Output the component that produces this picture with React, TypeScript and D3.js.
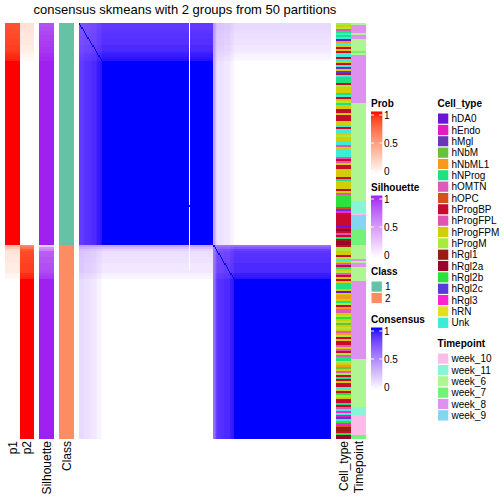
import React, { useMemo } from "react";
import * as d3 from "d3";

const TITLE = "consensus skmeans with 2 groups from 50 partitions";

// ---- categories ----
const cellTypeNames = [
  "hDA0", "hEndo", "hMgl", "hNbM", "hNbML1", "hNProg", "hOMTN", "hOPC", "hProgBP",
  "hProgFPL", "hProgFPM", "hProgM", "hRgl1", "hRgl2a", "hRgl2b", "hRgl2c", "hRgl3", "hRN", "Unk",
];
const cellTypeColors = [
  "#6D14DA", "#E21BC4", "#6B36B3", "#66C23C", "#F79A1B", "#1DE283", "#DE59B9", "#D2521E", "#C80A2E",
  "#E055B2", "#D3CD06", "#A7EB3C", "#9A1D14", "#96062E", "#2AE23A", "#5B3AD8", "#FE22D0", "#E0E01E", "#3DEBD9",
];
// one letter per cell type, in the order of cellTypeNames
const cellTypeCodes = "abcdefghijklmnopqrs";

const timepointNames = ["week_10", "week_11", "week_6", "week_7", "week_8", "week_9"];
const timepointColors = ["#FBBCEA", "#88F5D6", "#B1F592", "#72F378", "#DD93EE", "#84D5F0"];

const classNames = ["1", "2"];
const classColors = ["#66C2A5", "#FC8D62"];

// ---- samples of class 1 (top to bottom), cell type code per sample ----
const class1CellTypes =
  "lklgfsfsae" + "skikissisk" + "iscKpisfff".toLowerCase() + "ilkkkfsikl" + "fkkiikiiik" +
  "ksissklkks" + "sjkssssjij" + "kiikkkkifk" + "kkkikjoooo" + "oohpqiiiii" + "iainijifmn" + "n";
// ---- samples of class 2 (top to bottom) ----
const class2CellTypes =
  "illkkilskg" + "ifklgikikf" + "ffkakeekfl" + "ieggklokld" + "klkgelikii" +
  "gkjilgfflk" + "edkglifiki" + "iskiolkiif" + "ijsqsbpsoq" + "hmmionn";

// timepoint runs [timepoint, number of consecutive samples]
const class1TimepointRuns: [string, number][] = [
  ["week_6", 1], ["week_8", 4], ["week_6", 1], ["week_8", 2], ["week_6", 6], ["week_7", 1],
  ["week_6", 1], ["week_8", 24], ["week_6", 49], ["week_11", 6], ["week_10", 1], ["week_9", 7], ["week_7", 8],
];
const class2TimepointRuns: [string, number][] = [
  ["week_6", 7], ["week_8", 1], ["week_6", 1], ["week_8", 2], ["week_6", 7], ["week_8", 39],
  ["week_6", 24], ["week_11", 4], ["week_10", 10], ["week_7", 2],
];

// membership probability of own class for the first (least certain) samples; the others are 1
const class1OwnProbHead = [0.84, 0.84, 0.84, 0.85, 0.86, 0.87, 0.87, 0.87, 0.88, 0.88, 0.88, 0.9, 0.9, 0.9, 0.92, 0.94, 0.95, 0.96, 0.97];
const class2OwnProbHead = [0.62, 0.72, 0.82, 0.86, 0.87, 0.87, 0.88, 0.88, 0.88, 0.9, 0.9, 0.9, 0.9, 0.9, 0.94, 0.95, 0.96];
// silhouette of the first samples; the others are 1
const class1SilhouetteHead = [0.84, 0.84, 0.86, 0.86, 0.88, 0.88, 0.9, 0.9, 0.9, 0.92, 0.92, 0.92, 0.94, 0.94, 0.94, 0.96, 0.96, 0.98, 0.98];
const class2SilhouetteHead = [0.25, 0.55, 0.62, 0.78, 0.8, 0.8, 0.82, 0.82, 0.82, 0.85, 0.85, 0.85, 0.86, 0.86, 0.9, 0.92, 0.93];

// a sample column whose consensus reads 0 for the first rows
const zeroConsensusColumn = 91;
const zeroConsensusRows = 124;

const legendTicks = [0, 0.5, 1];

type Sample = { cls: number; p1: number; p2: number; sil: number; cellType: string; timepoint: string };

function buildSamples(): Sample[] {
  const out: Sample[] = [];
  const add = (cls: number, codes: string, runs: [string, number][], probHead: number[], silHead: number[]) => {
    const tps = runs.flatMap(([t, n]) => Array(n).fill(t));
    codes.split("").forEach((c, k) => {
      const own = k < probHead.length ? probHead[k] : 1;
      const sil = k < silHead.length ? silHead[k] : 1;
      out.push({
        cls,
        p1: cls === 1 ? own : 1 - own,
        p2: cls === 1 ? 1 - own : own,
        sil,
        cellType: cellTypeNames[cellTypeCodes.indexOf(c)],
        timepoint: tps[k] ?? tps[tps.length - 1],
      });
    });
  };
  add(1, class1CellTypes, class1TimepointRuns, class1OwnProbHead, class1SilhouetteHead);
  add(2, class2CellTypes, class2TimepointRuns, class2OwnProbHead, class2SilhouetteHead);
  return out;
}

const probColor = d3.scaleLinear<string>().domain([0, 1]).range(["#FFFFFF", "#FF0000"]).interpolate(d3.interpolateLab);
const silColor = d3.scaleLinear<string>().domain([0, 1]).range(["#FFFFFF", "#A020F0"]).interpolate(d3.interpolateLab);
const consColor = d3.scaleLinear<string>().domain([0, 1]).range(["#FFFFFF", "#0000FF"]).interpolate(d3.interpolateLab);
const classColor = d3.scaleOrdinal<string, string>().domain(classNames).range(classColors);
const cellColor = d3.scaleOrdinal<string, string>().domain(cellTypeNames).range(cellTypeColors);
const tpColor = d3.scaleOrdinal<string, string>().domain(timepointNames).range(timepointColors);

const FONT = "'Liberation Sans', Arial, Helvetica, sans-serif";
const TOP = 23;
const BOTTOM = 439;
const SW = 11.34;

function GradientLegend({ id, title, x, titleY, scale }: { id: string; title: string; x: number; titleY: number; scale: d3.ScaleLinear<string, string> }) {
  const top = titleY + 4.5;
  const h = 63;
  const y = d3.scaleLinear().domain([0, 1]).range([top + h - 3.5, top + 3.5]);
  const stops = d3.range(0, 1.0001, 0.1);
  return (
    <g>
      <defs>
        <linearGradient id={id} x1="0" y1="1" x2="0" y2="0">
          {stops.map((v) => (
            <stop key={v} offset={v} stopColor={scale(v)} />
          ))}
        </linearGradient>
      </defs>
      <text x={x} y={titleY} fontSize={10} fontWeight="bold">{title}</text>
      <rect x={x} y={top} width={SW} height={h} fill={`url(#${id})`} />
      {legendTicks.map((t) => (
        <g key={t}>
          <line x1={x} x2={x + 3} y1={y(t)} y2={y(t)} stroke="white" strokeWidth={1} />
          <line x1={x + SW - 3} x2={x + SW} y1={y(t)} y2={y(t)} stroke="white" strokeWidth={1} />
          <text x={x + 13} y={y(t)} dy="0.35em" fontSize={10}>{String(t)}</text>
        </g>
      ))}
    </g>
  );
}

function DiscreteLegend({ title, x, titleY, names, color }: { title: string; x: number; titleY: number; names: string[]; color: (s: string) => string }) {
  const top = titleY + 6;
  const y = d3.scaleBand<string>().domain(names).range([top, top + names.length * SW]);
  return (
    <g>
      <text x={x} y={titleY} fontSize={10} fontWeight="bold">{title}</text>
      {names.map((n) => (
        <g key={n}>
          <rect x={x} y={y(n)!} width={SW} height={SW} fill={color(n)} stroke="white" strokeWidth={1} />
          <text x={x + 14} y={y(n)! + SW / 2} dy="0.35em" fontSize={10}>{n}</text>
        </g>
      ))}
    </g>
  );
}

export default function App() {
  const samples = useMemo(buildSamples, []);
  const N = samples.length;
  const idx = d3.range(N);
  const xM = d3.scaleBand<number>().domain(idx).range([79, 331]);
  const yM = d3.scaleBand<number>().domain(idx).range([TOP, BOTTOM]);

  const matrixRects = useMemo(() => {
    const cons = (i: number, j: number) => {
      if (i === j) return 1;
      if (j === zeroConsensusColumn && i < zeroConsensusRows) return 0;
      return samples[i].p1 * samples[j].p1 + samples[i].p2 * samples[j].p2;
    };
    const rects: { i: number; j0: number; j1: number; fill: string }[] = [];
    for (let i = 0; i < N; i++) {
      let start = 0;
      let cur = consColor(cons(i, 0));
      for (let j = 1; j <= N; j++) {
        const c = j < N ? consColor(cons(i, j)) : "";
        if (c !== cur) {
          rects.push({ i, j0: start, j1: j - 1, fill: cur });
          start = j;
          cur = c;
        }
      }
    }
    return rects;
  }, [samples]);

  const annCols: { name: string; x0: number; x1: number; color: (s: Sample) => string }[] = [
    { name: "p1", x0: 5, x1: 19.5, color: (s) => probColor(s.p1) },
    { name: "p2", x0: 19.5, x1: 34, color: (s) => probColor(s.p2) },
    { name: "Silhouette", x0: 39, x1: 54, color: (s) => silColor(s.sil) },
    { name: "Class", x0: 59, x1: 74, color: (s) => classColor(String(s.cls)) },
    { name: "Cell_type", x0: 336, x1: 350.5, color: (s) => cellColor(s.cellType) },
    { name: "Timepoint", x0: 351, x1: 366, color: (s) => tpColor(s.timepoint) },
  ];

  const annRuns = (col: (s: Sample) => string) => {
    const runs: { i0: number; i1: number; fill: string }[] = [];
    let start = 0;
    let cur = col(samples[0]);
    for (let i = 1; i <= N; i++) {
      const c = i < N ? col(samples[i]) : "";
      if (c !== cur) {
        runs.push({ i0: start, i1: i - 1, fill: cur });
        start = i;
        cur = c;
      }
    }
    return runs;
  };

  return (
    <svg width={504} height={504} style={{ position: "absolute", left: 0, top: 0 }} fontFamily={FONT}>
      <rect width={504} height={504} fill="white" />
      <text x={185} y={14} fontSize={13} textAnchor="middle">{TITLE}</text>

      <g shapeRendering="crispEdges">
        {matrixRects.map((r, k) => (
          <rect
            key={k}
            x={xM(r.j0)!}
            y={yM(r.i)!}
            width={xM(r.j1)! + xM.bandwidth() - xM(r.j0)!}
            height={yM.bandwidth()}
            fill={r.fill}
          />
        ))}
      </g>

      {annCols.map((c) => (
        <g key={c.name}>
          <g shapeRendering="crispEdges">
            {annRuns(c.color).map((r, k) => (
              <rect
                key={k}
                x={c.x0}
                y={yM(r.i0)!}
                width={c.x1 - c.x0}
                height={yM(r.i1)! + yM.bandwidth() - yM(r.i0)!}
                fill={r.fill}
              />
            ))}
          </g>
          <text
            transform={`translate(${(c.x0 + c.x1) / 2 + 4.5},${BOTTOM + 2}) rotate(-90)`}
            textAnchor="end"
            fontSize={12}
          >
            {c.name}
          </text>
        </g>
      ))}

      <GradientLegend id="gProb" title="Prob" x={371} titleY={107} scale={probColor} />
      <GradientLegend id="gSil" title="Silhouette" x={371} titleY={191} scale={silColor} />
      <DiscreteLegend title="Class" x={371} titleY={275} names={classNames} color={(n) => classColor(n)} />
      <GradientLegend id="gCons" title="Consensus" x={371} titleY={323} scale={consColor} />
      <DiscreteLegend title="Cell_type" x={437.5} titleY={107} names={cellTypeNames} color={(n) => cellColor(n)} />
      <DiscreteLegend title="Timepoint" x={437.5} titleY={347} names={timepointNames} color={(n) => tpColor(n)} />
    </svg>
  );
}
